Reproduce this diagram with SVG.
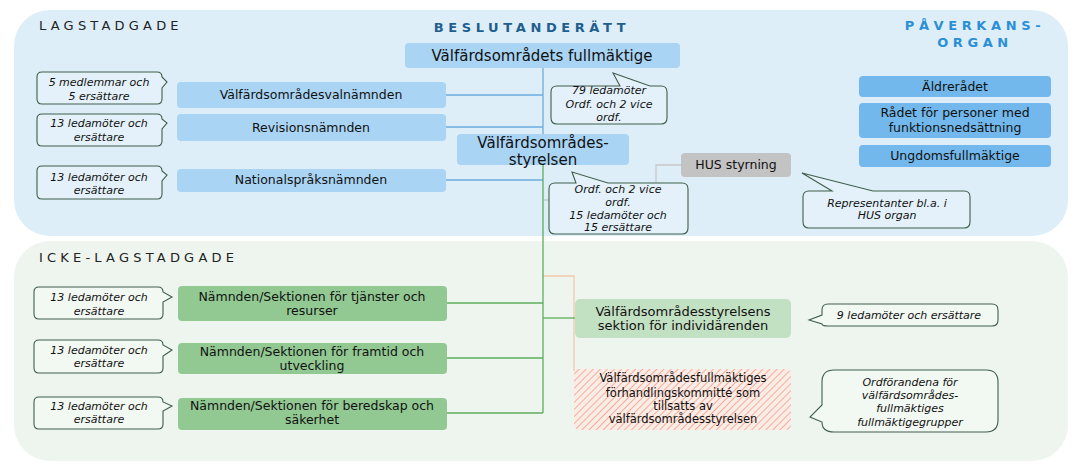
<svg xmlns="http://www.w3.org/2000/svg" width="1089" height="473" viewBox="0 0 1089 473">
<defs>
<pattern id="hatch" patternUnits="userSpaceOnUse" width="5" height="5" patternTransform="rotate(45)">
<rect width="5" height="5" fill="#fbece6"/>
<line x1="0" y1="0" x2="0" y2="5" stroke="#ef9f8c" stroke-width="1.6"/>
</pattern>
</defs>
<style>
.title{font-family:"DejaVu Sans",Verdana,sans-serif;font-size:13px;letter-spacing:4.2px;fill:#222}
.head{font-family:"DejaVu Sans",Verdana,sans-serif;font-size:13px;font-weight:bold;letter-spacing:4.6px}
.t{font-family:"DejaVu Sans",Verdana,sans-serif;fill:#111;text-anchor:middle}
.n{font-size:12.5px}
.big{font-size:15px}
.c{font-family:"DejaVu Sans",Verdana,sans-serif;font-style:italic;font-size:11px;fill:#111;text-anchor:middle}
.co{stroke:#3f5f4a;stroke-width:1.1}
.cot{fill:#e4f1fa}
.cob{fill:#f2f8f2}
.blue{fill:#a9d4f4}
.blue2{fill:#72b8ec}
.green{fill:#92c892}
.lb{stroke:#6aaee2;stroke-width:1.3;fill:none}
.lg{stroke:#5cae5c;stroke-width:1.3;fill:none}
.lo{stroke:#f4c9ab;stroke-width:1.3;fill:none}
.lgr{stroke:#c8c8c8;stroke-width:1.3;fill:none}
</style>
<rect width="1089" height="473" fill="#ffffff"/>
<g id="panel-lagstadgade">
<rect x="14" y="10" width="1054" height="226" rx="36" fill="#ddeef9"/>
<text class="title" x="39" y="30">LAGSTADGADE</text>
<text class="head" x="532" y="32" text-anchor="middle" fill="#1f5e8e">BESLUTANDERÄTT</text>
<text class="head" x="975" y="30" text-anchor="middle" fill="#2b8fd6">PÅVERKANS-</text>
<text class="head" x="975" y="47" text-anchor="middle" fill="#2b8fd6">ORGAN</text>
</g>
<g id="panel-icke">
<rect x="14" y="241" width="1054" height="220" rx="36" fill="#eef5ee"/>
<text class="title" x="39" y="262">ICKE-LAGSTADGADE</text>
</g>
<g id="connectors">
<path class="lgr" d="M681,165 H656 V200 H544"/>
<path class="lb" d="M543,68 V134"/>
<path class="lb" d="M446,95 H543"/>
<path class="lb" d="M446,127 H543"/>
<path class="lb" d="M446,180 H543"/>
<path class="lo" d="M543,276 H574 V371"/>
<path class="lg" d="M543,165 V413"/>
<path class="lg" d="M447,303 H543"/>
<path class="lg" d="M447,358 H543"/>
<path class="lg" d="M447,413 H543"/>
<path class="lg" d="M543,318 H575"/>
</g>
<g id="fullmaktige">
<rect class="blue" x="405" y="43" width="275" height="25" rx="4"/>
<text class="t big" x="542" y="61">Välfärdsområdets fullmäktige</text>
</g>
<g id="valnamnden">
<rect class="blue" x="177" y="82" width="269" height="26" rx="4"/>
<text class="t n" x="311" y="99">Välfärdsområdesvalnämnden</text>
</g>
<g id="revision">
<rect class="blue" x="177" y="114" width="269" height="27" rx="4"/>
<text class="t n" x="311" y="132">Revisionsnämnden</text>
</g>
<g id="nationalsprak">
<rect class="blue" x="177" y="169" width="269" height="23" rx="4"/>
<text class="t n" x="311" y="184">Nationalspråksnämnden</text>
</g>
<g id="styrelsen">
<rect class="blue" x="457" y="134" width="172" height="31" rx="4"/>
<text class="t big" x="543" y="148">Välfärdsområdes-</text>
<text class="t big" x="543" y="165">styrelsen</text>
</g>
<g id="hus">
<rect x="681" y="153" width="110" height="24" rx="4" fill="#c3c3c3"/>
<text class="t n" x="736" y="169">HUS styrning</text>
</g>
<g id="aldreradet">
<rect class="blue2" x="859" y="76" width="192" height="21" rx="4"/>
<text class="t n" x="955" y="91">Äldrerådet</text>
</g>
<g id="radet">
<rect class="blue2" x="859" y="103" width="192" height="35" rx="4"/>
<text class="t n" x="955" y="117">Rådet för personer med</text>
<text class="t n" x="955" y="132">funktionsnedsättning</text>
</g>
<g id="ungdom">
<rect class="blue2" x="859" y="145" width="192" height="22" rx="4"/>
<text class="t n" x="955" y="160">Ungdomsfullmäktige</text>
</g>
<g id="tjanster">
<rect class="green" x="178" y="286" width="269" height="35" rx="4"/>
<text class="t n" x="312" y="301">Nämnden/Sektionen för tjänster och</text>
<text class="t n" x="312" y="315">resurser</text>
</g>
<g id="framtid">
<rect class="green" x="178" y="343" width="269" height="31" rx="4"/>
<text class="t n" x="312" y="356">Nämnden/Sektionen för framtid och</text>
<text class="t n" x="312" y="370">utveckling</text>
</g>
<g id="beredskap">
<rect class="green" x="178" y="398" width="269" height="32" rx="4"/>
<text class="t n" x="312" y="410">Nämnden/Sektionen för beredskap och</text>
<text class="t n" x="312" y="424">säkerhet</text>
</g>
<g id="individ">
<rect x="575" y="299" width="216" height="39" rx="5" fill="#c2e0c2"/>
<text class="t" x="683" y="316" font-size="13">Välfärdsområdesstyrelsens</text>
<text class="t" x="683" y="330" font-size="13">sektion för individärenden</text>
</g>
<g id="forhandling">
<rect x="574" y="369" width="217" height="61" rx="5" fill="url(#hatch)"/>
<text class="t" x="683" y="382" font-size="11.5">Välfärdsområdesfullmäktiges</text>
<text class="t" x="683" y="397" font-size="11.5">förhandlingskommitté som</text>
<text class="t" x="683" y="410" font-size="11.5">tillsatts av</text>
<text class="t" x="683" y="423" font-size="11.5">välfärdsområdesstyrelsen</text>
</g>
<g id="callout-valnamnd">
<path class="co cot" d="M42,72 H157 Q162,72 162,77 L167,82 L162,88 V99 Q162,104 157,104 H42 Q37,104 37,99 V77 Q37,72 42,72 Z"/>
<text class="c" x="99" y="86">5 medlemmar och</text>
<text class="c" x="99" y="100">5 ersättare</text>
</g>
<g id="callout-revision">
<path class="co cot" d="M42,114 H157 Q162,114 162,119 L167,123 L162,129 V141 Q162,146 157,146 H42 Q37,146 37,141 V119 Q37,114 42,114 Z"/>
<text class="c" x="99" y="127">13 ledamöter och</text>
<text class="c" x="99" y="141">ersättare</text>
</g>
<g id="callout-nationalsprak">
<path class="co cot" d="M42,166 H157 Q162,166 162,171 L167,175 L162,181 V194 Q162,199 157,199 H42 Q37,199 37,194 V171 Q37,166 42,166 Z"/>
<text class="c" x="99" y="181">13 ledamöter och</text>
<text class="c" x="99" y="194">ersättare</text>
</g>
<g id="callout-fullmaktige">
<path class="co cot" d="M557,86 H620 L613,73 L650,86 H661 Q667,86 667,92 V118 Q667,124 661,124 H557 Q551,124 551,118 V92 Q551,86 557,86 Z"/>
<text class="c" x="609" y="94">79 ledamöter</text>
<text class="c" x="609" y="108">Ordf. och 2 vice</text>
<text class="c" x="609" y="121">ordf.</text>
</g>
<g id="callout-styrelsen">
<path class="co cot" d="M555,183 H576 L572,172 L608,183 H682 Q688,183 688,189 V228 Q688,234 682,234 H555 Q549,234 549,228 V189 Q549,183 555,183 Z"/>
<text class="c" x="618" y="193">Ordf. och 2 vice</text>
<text class="c" x="618" y="206">ordf.</text>
<text class="c" x="618" y="219">15 ledamöter och</text>
<text class="c" x="618" y="231">15 ersättare</text>
</g>
<g id="callout-hus">
<path class="co cot" d="M809,191 H832 L802,173 L873,191 H964 Q970,191 970,197 V222 Q970,228 964,228 H809 Q803,228 803,222 V197 Q803,191 809,191 Z"/>
<text class="c" x="887" y="207">Representanter bl.a. i</text>
<text class="c" x="887" y="219">HUS organ</text>
</g>
<g id="callout-tjanster">
<path class="co cob" d="M39,287 H158 Q163,287 163,292 L172,297 L163,302 V314 Q163,319 158,319 H39 Q34,319 34,314 V292 Q34,287 39,287 Z"/>
<text class="c" x="99" y="301">13 ledamöter och</text>
<text class="c" x="99" y="315">ersättare</text>
</g>
<g id="callout-framtid">
<path class="co cob" d="M39,340 H158 Q163,340 163,345 L172,350 L163,356 V368 Q163,373 158,373 H39 Q34,373 34,368 V345 Q34,340 39,340 Z"/>
<text class="c" x="99" y="354">13 ledamöter och</text>
<text class="c" x="99" y="367">ersättare</text>
</g>
<g id="callout-beredskap">
<path class="co cob" d="M39,397 H158 Q163,397 163,402 L172,406 L163,411 V424 Q163,429 158,429 H39 Q34,429 34,424 V402 Q34,397 39,397 Z"/>
<text class="c" x="99" y="410">13 ledamöter och</text>
<text class="c" x="99" y="423">ersättare</text>
</g>
<g id="callout-individ">
<path class="co cob" d="M828,304 H992 Q998,304 998,310 V320 Q998,326 992,326 H828 Q822,326 822,324 L809,320 L822,315 V310 Q822,304 828,304 Z"/>
<text class="c" x="909" y="319">9 ledamöter och ersättare</text>
</g>
<g id="callout-ordforandena">
<path class="co cob" d="M834,370 H986 Q998,370 998,382 V420 Q998,432 986,432 H834 Q822,432 822,422 L810,417 L822,405 V382 Q822,370 834,370 Z"/>
<text class="c" x="910" y="386">Ordförandena för</text>
<text class="c" x="910" y="399">välfärdsområdes-</text>
<text class="c" x="910" y="412">fullmäktiges</text>
<text class="c" x="910" y="426">fullmäktigegrupper</text>
</g>
</svg>
